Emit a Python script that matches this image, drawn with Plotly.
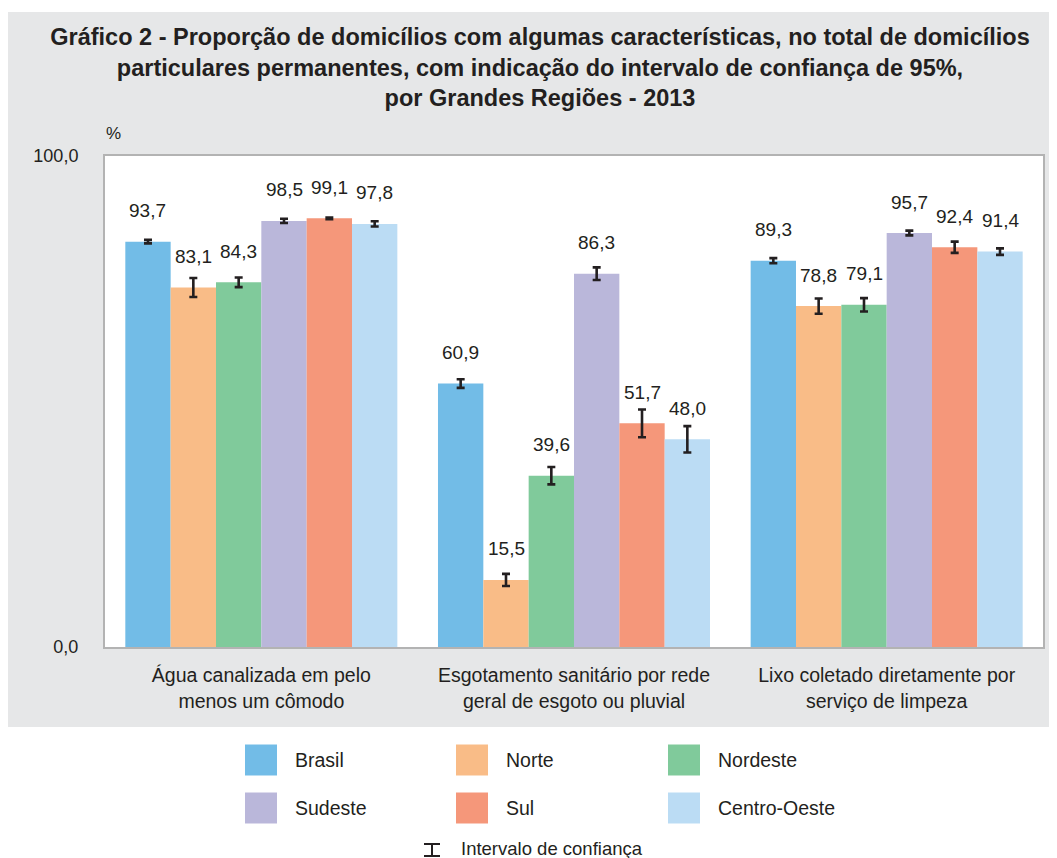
import plotly.graph_objects as go

# ---------------- data ----------------
categories = [
    "Água canalizada em pelo<br>menos um cômodo",
    "Esgotamento sanitário por rede<br>geral de esgoto ou pluvial",
    "Lixo coletado diretamente por<br>serviço de limpeza",
]
regions = ["Brasil", "Norte", "Nordeste", "Sudeste", "Sul", "Centro-Oeste"]

brasil = [93.7, 60.9, 89.3]
norte = [83.1, 15.5, 78.8]
nordeste = [84.3, 39.6, 79.1]
sudeste = [98.5, 86.3, 95.7]
sul = [99.1, 51.7, 92.4]
centro_oeste = [97.8, 48.0, 91.4]

# half-width of the 95% confidence interval
ci_brasil = [0.4, 1.0, 0.6]
ci_norte = [2.2, 1.4, 1.75]
ci_nordeste = [1.1, 2.0, 1.55]
ci_sudeste = [0.5, 1.45, 0.55]
ci_sul = [0.2, 3.2, 1.3]
ci_centro_oeste = [0.6, 3.05, 0.75]

y_ticks = ["0,0", "100,0"]

series = [brasil, norte, nordeste, sudeste, sul, centro_oeste]
cis = [ci_brasil, ci_norte, ci_nordeste, ci_sudeste, ci_sul, ci_centro_oeste]
colors = ["#72BCE7", "#F9BC87", "#80CA9B", "#BAB7DA", "#F5977A", "#BBDCF4"]

TXT = "#231F20"
FONT = "Liberation Sans, Arial, sans-serif"

# page offset (body margin) and figure size
OFF = 8
FIG_W, FIG_H = 1057 - OFF, 858 - OFF

# plot area in screen pixels
L, R, T, B = 105, 1043, 156, 647
W, H = R - L, B - T
YMAX = 113.5
BARGAP = 0.13


def px(x):
    return (x - L) / W


def py(y):
    return (B - y) / H


fig = go.Figure()
xpos = list(range(len(categories)))
for name, vals, ci, col in zip(regions, series, cis, colors):
    fig.add_trace(go.Bar(
        x=xpos, y=vals, name=name,
        marker=dict(color=col, line=dict(width=0)),
        error_y=dict(type="data", array=ci, visible=True,
                     color=TXT, thickness=2.6, width=4),
        showlegend=False, hoverinfo="skip",
    ))

annotations = []
bw = (1 - BARGAP) / len(regions)
for i, vals in enumerate(series):
    for c, v in enumerate(vals):
        annotations.append(dict(
            x=c + (i - (len(regions) - 1) / 2) * bw, y=v, xref="x", yref="y",
            text=f"{v:.1f}".replace(".", ","), showarrow=False,
            yshift=31, font=dict(size=19, color=TXT, family=FONT),
        ))

# "%" label
annotations.append(dict(x=px(104), y=py(122), xref="paper", yref="paper",
                        text="%", showarrow=False,
                        font=dict(size=17, color=TXT, family=FONT)))

shapes = [
    # gray panel
    dict(type="rect", xref="paper", yref="paper",
         x0=px(OFF - 2), x1=px(1062), y0=py(727), y1=py(12),
         fillcolor="#E6E7E8", line=dict(width=0), layer="below"),
    # white plotting area
    dict(type="rect", xref="paper", yref="paper",
         x0=0, x1=1, y0=0, y1=1,
         fillcolor="white", line=dict(width=0), layer="below"),
]

# manual legend
leg_cols_sq = [245, 456, 668]
leg_rows = [760, 808]
for k, (name, col) in enumerate(zip(regions, colors)):
    r, c = divmod(k, 3)
    x0 = leg_cols_sq[c]
    yc = leg_rows[r]
    shapes.append(dict(type="rect", xref="paper", yref="paper",
                       x0=px(x0), x1=px(x0 + 32), y0=py(yc + 15.5), y1=py(yc - 15.5),
                       fillcolor=col, line=dict(width=0)))
    annotations.append(dict(x=px(x0 + 48), y=py(yc), xref="paper", yref="paper",
                            text=name, showarrow=False, xanchor="left", yanchor="middle",
                            font=dict(size=19.5, color=TXT, family=FONT)))

# confidence interval legend symbol
sx, sy = 432, 850
for (xa, ya, xb, yb) in [(sx - 8, sy - 6, sx + 8, sy - 6),
                         (sx - 8, sy + 6, sx + 8, sy + 6),
                         (sx, sy - 6, sx, sy + 6)]:
    shapes.append(dict(type="line", xref="paper", yref="paper",
                       x0=px(xa), y0=py(ya), x1=px(xb), y1=py(yb),
                       line=dict(color=TXT, width=2)))
annotations.append(dict(x=px(459), y=py(848), xref="paper", yref="paper",
                        text="Intervalo de confiança", showarrow=False,
                        xanchor="left", yanchor="middle",
                        font=dict(size=18.5, color=TXT, family=FONT)))

fig.update_layout(
    width=FIG_W, height=FIG_H,
    margin=dict(l=L - OFF, r=FIG_W - (R - OFF), t=T - OFF, b=FIG_H - (B - OFF), pad=0),
    paper_bgcolor="white", plot_bgcolor="white",
    barmode="group", bargap=BARGAP, bargroupgap=0,
    title=dict(
        text="Gráfico 2 - Proporção de domicílios com algumas características, no total de domicílios<br>"
             "particulares permanentes, com indicação do intervalo de confiança de 95%,<br>"
             "por Grandes Regiões - 2013",
        x=(540 - OFF) / FIG_W, xanchor="center", xref="container",
        y=1 - (45 - OFF) / FIG_H, yanchor="middle", yref="container",
        font=dict(size=23.5, color=TXT, family=FONT, weight="bold"),
    ),
    font=dict(family=FONT, color=TXT),
    xaxis=dict(range=[-0.5, 2.5], tickvals=xpos, ticktext=categories,
               showline=True, mirror=True, linecolor="#B3B3B3", linewidth=2,
               showgrid=False, zeroline=False, ticks="",
               tickfont=dict(size=19.5, color=TXT, family=FONT),
               ticklabelstandoff=10, fixedrange=True),
    yaxis=dict(range=[0, YMAX], tickvals=[0, YMAX - 0.01], ticktext=y_ticks,
               showline=True, mirror=True, linecolor="#B3B3B3", linewidth=2,
               showgrid=False, zeroline=False, ticks="",
               tickfont=dict(size=18, color=TXT, family=FONT),
               ticklabelstandoff=21, fixedrange=True),
    shapes=shapes,
    annotations=annotations,
)

fig.write_html("out.html")
